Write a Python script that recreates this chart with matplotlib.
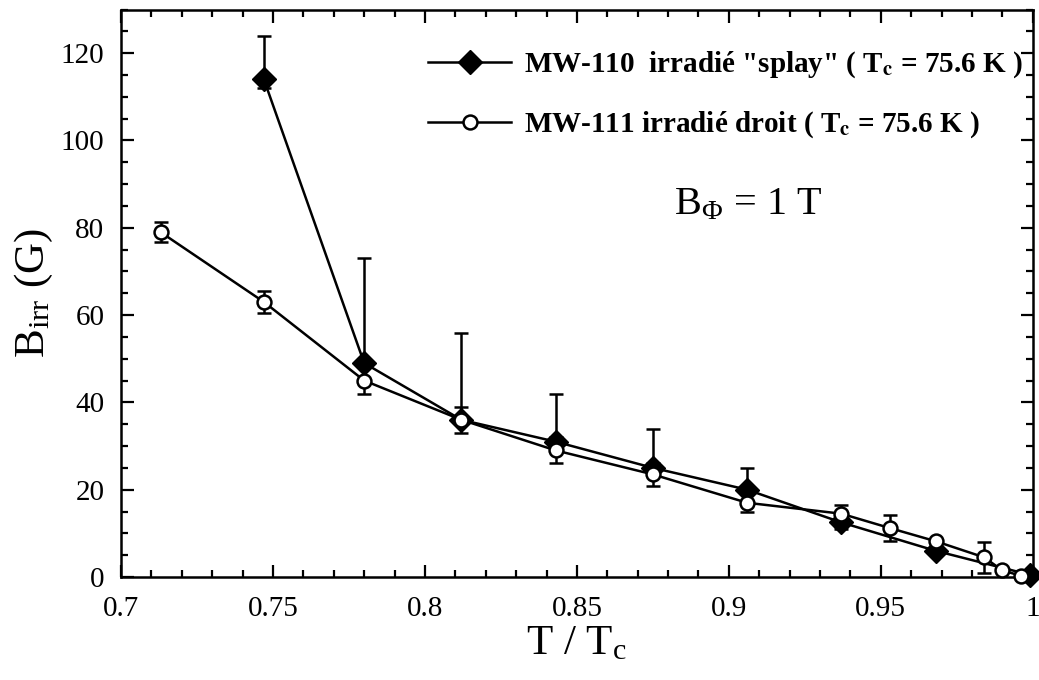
import matplotlib
matplotlib.use('Agg')
import matplotlib.pyplot as plt
from matplotlib.lines import Line2D
from matplotlib.ticker import MultipleLocator

plt.rcParams['font.family'] = ['Liberation Serif', 'DejaVu Serif']
plt.rcParams['mathtext.fontset'] = 'stix'

# MW-110, "splay" irradiation (filled diamonds)
t_splay = [0.747, 0.780, 0.812, 0.843, 0.875, 0.906, 0.937, 0.968, 0.999]
b_splay = [114, 49, 36, 31, 25, 20, 12.5, 6, 0.5]
up_splay = [10, 24, 20, 11, 9, 5, 0, 0, 0]
lo_splay = [2, 0, 0, 0, 0, 0, 1.5, 0, 0]

# MW-111, straight irradiation (open circles)
t_droit = [0.713, 0.747, 0.780, 0.812, 0.843, 0.875, 0.906, 0.937, 0.953, 0.968, 0.984, 0.990, 0.996]
b_droit = [79, 63, 45, 36, 29, 23.5, 17, 14.5, 11.2, 8.2, 4.5, 1.5, 0.3]
err_droit = [2.3, 2.5, 3, 3, 3, 2.7, 2, 2, 3, 0, 3.5, 0, 0]

lab_splay = r'MW-110  irradié "splay" ( T$_\mathbf{c}$ = 75.6 K )'
lab_droit = r'MW-111 irradié droit ( T$_\mathbf{c}$ = 75.6 K )'

fig = plt.figure(figsize=(10.39, 6.8), dpi=100)
ax = fig.add_axes([0.1165, 0.1515, 0.8775, 0.8345])

ax.errorbar(t_splay, b_splay, yerr=[lo_splay, up_splay], fmt='-D', color='black',
            mfc='black', ms=12.5, lw=1.8, elinewidth=1.8, capsize=5, capthick=1.8,
            clip_on=False, zorder=3)
ax.errorbar(t_droit, b_droit, yerr=err_droit, fmt='-o', color='black',
            mfc='white', mew=1.8, ms=10, lw=1.8, elinewidth=1.8, capsize=5, capthick=1.8,
            clip_on=False, zorder=4)

ax.set_xlim(0.7, 1.0)
ax.set_ylim(0, 130)
ax.xaxis.set_minor_locator(MultipleLocator(0.01))
ax.yaxis.set_major_locator(MultipleLocator(20))
ax.yaxis.set_minor_locator(MultipleLocator(5))
ax.set_xticks([0.7, 0.75, 0.8, 0.85, 0.9, 0.95, 1.0])
ax.set_xticklabels(['0.7', '0.75', '0.8', '0.85', '0.9', '0.95', '1'])
ax.tick_params(which='both', direction='in', top=True, right=True, width=1.6, labelsize=21)
ax.tick_params(axis='x', pad=14)
ax.tick_params(axis='y', pad=12)
ax.tick_params(which='major', length=9)
ax.tick_params(which='minor', length=5)
for s in ax.spines.values():
    s.set_linewidth(1.8)

ax.set_xlabel(r'T / T$_\mathregular{c}$', fontsize=31, labelpad=2)
ax.set_ylabel(r'B$_\mathregular{irr}$ (G)', fontsize=31, labelpad=4)

ax.text(0.607, 0.655, r'B$_\mathregular{\Phi}$ = 1 T', transform=ax.transAxes,
        fontsize=29, va='center')

handles = [Line2D([], [], color='black', marker='D', ms=12.5, lw=1.8),
           Line2D([], [], color='black', marker='o', mfc='white', mew=1.8, ms=10, lw=1.8)]
ax.legend(handles, [lab_splay, lab_droit], loc='upper right', bbox_to_anchor=(1.012, 0.965),
          frameon=False, prop={'weight': 'bold', 'size': 21}, handlelength=2.85,
          handletextpad=0.45, labelspacing=1.0, borderaxespad=0.3)

fig.savefig('out.png', dpi=100)
